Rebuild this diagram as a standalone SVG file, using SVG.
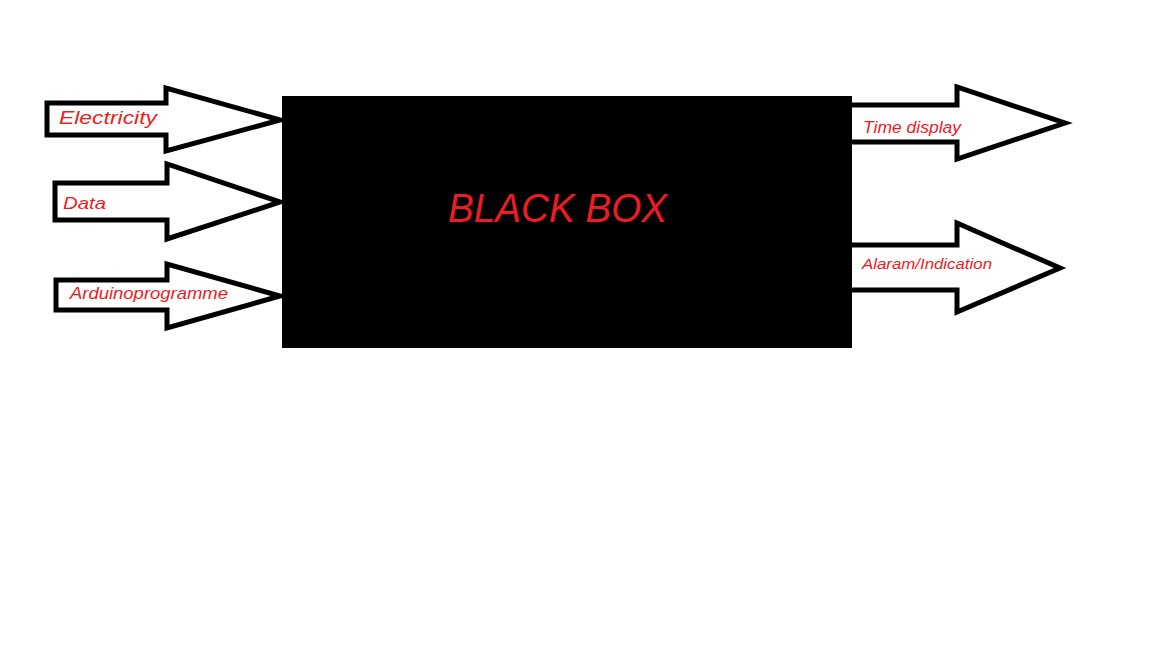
<svg xmlns="http://www.w3.org/2000/svg" width="1152" height="648" viewBox="0 0 1152 648">
<style>
.arrow{fill:#fff;stroke:#000;stroke-width:5;stroke-linejoin:miter}
.lbl{font-family:"Comic Sans MS","Liberation Sans",sans-serif;font-style:italic;fill:#ed1c24}
</style>
<rect width="1152" height="648" fill="#fff"/>
<g id="connectors">
<g id="in-electricity">
<polygon class="arrow" points="47,103 166,103 166,88 280,120 166,151 166,135 47,135"/>
<text class="lbl" x="59" y="124" font-size="18" textLength="98" lengthAdjust="spacingAndGlyphs">Electricity</text>
</g>
<g id="in-data">
<polygon class="arrow" points="55,183 167,183 167,164 280,202 167,239 167,220 55,220"/>
<text class="lbl" x="63" y="209" font-size="17" textLength="43" lengthAdjust="spacingAndGlyphs">Data</text>
</g>
<g id="in-arduino">
<polygon class="arrow" points="56,280 167,280 167,264 280,296 167,328 167,310 56,310"/>
<text class="lbl" x="70" y="299" font-size="17" textLength="158" lengthAdjust="spacingAndGlyphs">Arduinoprogramme</text>
</g>
<g id="out-time">
<polygon class="arrow" points="845,105 957,105 957,87 1065,123 957,159 957,142 845,142"/>
<text class="lbl" x="863" y="133" font-size="16" textLength="98" lengthAdjust="spacingAndGlyphs">Time display</text>
</g>
<g id="out-alarm">
<polygon class="arrow" points="845,245 957,245 957,223 1060,268 957,312 957,290 845,290"/>
<text class="lbl" x="862" y="269" font-size="14" textLength="130" lengthAdjust="spacingAndGlyphs">Alaram/Indication</text>
</g>
</g>
<g id="blackbox">
<rect x="282" y="96" width="570" height="252" fill="#000"/>
<text class="lbl" x="448" y="222" font-size="40" textLength="219" lengthAdjust="spacingAndGlyphs">BLACK BOX</text>
</g>
</svg>
